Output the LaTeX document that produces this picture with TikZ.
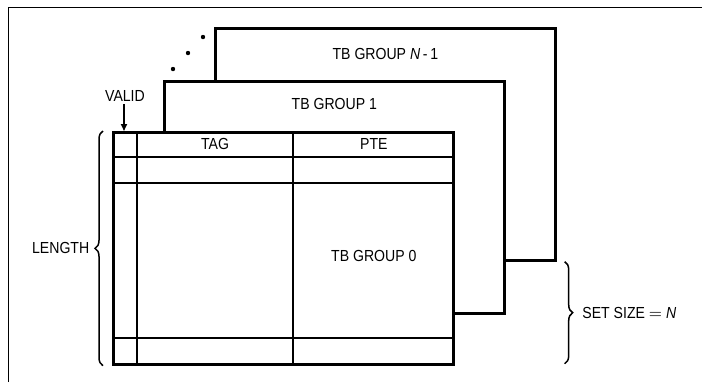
\documentclass[tikz,border=0pt]{standalone}
\usepackage{fontspec}
\setmainfont{Liberation Sans}[FakeStretch=0.88]
\usetikzlibrary{positioning, arrows.meta, decorations.pathreplacing, calc}

\begin{document}
\begin{tikzpicture}[
    x=0.5pt, y=-0.5pt,
    every node/.style={font=\fontsize{8}{9}\selectfont, inner sep=1pt},
    tbbox/.style={draw, fill=white, line width=1.35pt, minimum width=170pt, minimum height=116pt, inner sep=0pt, anchor=north west},
    grid/.style={line width=0.75pt},
    arr/.style={-{Triangle[length=3.5pt, width=3pt]}, line width=0.8pt},
    brc/.style={decorate, decoration={brace, amplitude=4pt}, line width=0.75pt},
]
\useasboundingbox (0,0) rectangle (702,382);

% frame (only top and left edge are visible)
\draw[line width=0.5pt] (8,382) -- (8,7) -- (702,7);

% stacked groups, back to front
\node[tbbox] (grpN) at (214,27) {};
\node[tbbox] (grp1) at ([xshift=-25.5pt, yshift=-26.5pt]grpN.north west) {};
\node[tbbox] (grp0) at ([xshift=-25.5pt, yshift=-25.5pt]grp1.north west) {};

\node at ([yshift=-13.5pt]grpN.north) (lblN) {TB GROUP \textit{N}\,-\,1};
\node at ([yshift=-12pt]grp1.north) (lbl1) {TB GROUP 1};

% columns and rows of group 0
\coordinate (vcol) at ([xshift=12.5pt]grp0.north west);
\coordinate (tcol) at ([xshift=90.5pt]grp0.north west);
\draw[grid] (vcol) -- (vcol |- grp0.south);
\draw[grid] (tcol) -- (tcol |- grp0.south);
\foreach \yy in {13, 26, 103.5}
  \draw[grid] ([yshift=-\yy pt]grp0.north west) -- ([yshift=-\yy pt]grp0.north east);

\node at ($(vcol)!0.5!(tcol) + (0,13)$) (tag) {TAG};
\node at ($(tcol)!0.5!(grp0.north east) + (0,13)$) (pte) {PTE};
\node at ($(tcol)!0.5!(grp0.north east) + (0,125)$) (lbl0) {TB GROUP 0};

% more groups behind
\foreach \dx/\dy [count=\i] in {173/69, 188/53, 203/37}
  \fill (\dx,\dy) circle (1.1pt) coordinate (dot\i);

% valid bit marker
\node at (125,96) (valid) {VALID};
\coordinate (vtip) at (124,131);
\draw[arr] (valid.south -| vtip) -- (vtip);

% braces
\draw[brc] ([xshift=-4.5pt]grp0.south west) -- ([xshift=-4.5pt]grp0.north west)
  node[midway, left=5.5pt] (len) {LENGTH};
\draw[brc] ([xshift=4pt]grpN.south east) -- ([xshift=4pt, yshift=1pt]grpN.south east |- grp0.south)
  node[midway, right=7.5pt] (setsz) {SET SIZE $=$ \textit{N}};

\end{tikzpicture}
\end{document}
